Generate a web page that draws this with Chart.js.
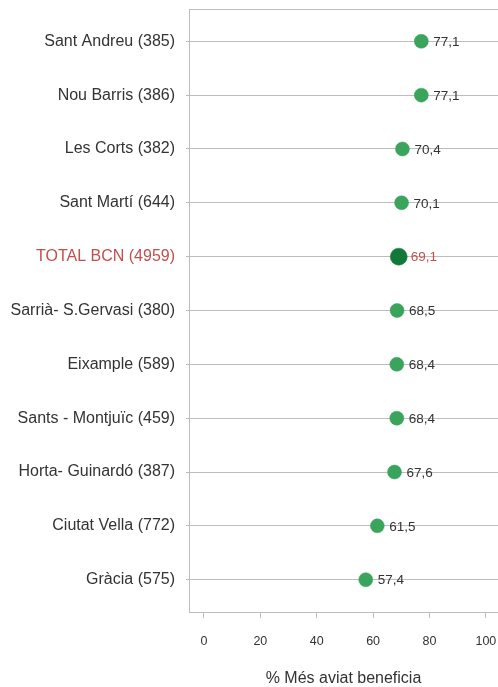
<!DOCTYPE html>
<html>
<head>
<meta charset="utf-8">
<script src="https://cdn.jsdelivr.net/npm/chart.js@4.4.1/dist/chart.umd.min.js"></script>
<style>
  html, body { margin: 0; padding: 0; background: #ffffff; }
  #wrap { width: 498px; height: 687px; position: relative; overflow: hidden; }
</style>
</head>
<body>
<div id="wrap"><canvas id="c" width="498" height="687"></canvas></div>
<script>
const categories = [
  "Sant Andreu (385)",
  "Nou Barris (386)",
  "Les Corts (382)",
  "Sant Martí (644)",
  "TOTAL BCN (4959)",
  "Sarrià- S.Gervasi (380)",
  "Eixample (589)",
  "Sants - Montjuïc (459)",
  "Horta- Guinardó (387)",
  "Ciutat Vella (772)",
  "Gràcia (575)"
];
const values = [77.1, 77.1, 70.4, 70.1, 69.1, 68.5, 68.4, 68.4, 67.6, 61.5, 57.4];
const valueLabels = ["77,1", "77,1", "70,4", "70,1", "69,1", "68,5", "68,4", "68,4", "67,6", "61,5", "57,4"];
const xTicks = [0, 20, 40, 60, 80, 100];
const totalIndex = 4;
const xTitle = "% Més aviat beneficia";

const GREEN = '#3aa35c';
const DARK_GREEN = '#127838';
const RED = '#c0504d';
const TEXT = '#333333';
const GRID = '#bdbdbd';
const FONT = "'Liberation Sans', Arial, sans-serif";

const points = values.map((v, i) => ({ x: v, y: i }));

function zeroPad(scale) {
  scale.paddingTop = 0; scale.paddingBottom = 0;
  scale.paddingLeft = 0; scale.paddingRight = 0;
}

const boxTop = {
  id: 'boxTop',
  beforeDatasetsDraw(chart) {
    const { ctx, chartArea } = chart;
    ctx.save();
    ctx.strokeStyle = GRID;
    ctx.lineWidth = 1;
    ctx.beginPath();
    ctx.moveTo(chartArea.left, chartArea.top + 0.5);
    ctx.lineTo(chartArea.right, chartArea.top + 0.5);
    ctx.stroke();
    ctx.restore();
  }
};

const valueLabelPlugin = {
  id: 'valueLabels',
  afterDatasetsDraw(chart) {
    const { ctx } = chart;
    const xs = chart.scales.x, ys = chart.scales.y;
    ctx.save();
    ctx.font = "13.5px " + FONT;
    ctx.textBaseline = 'middle';
    ctx.textAlign = 'left';
    values.forEach((v, i) => {
      const px = xs.getPixelForValue(v);
      const py = ys.getPixelForValue(i);
      ctx.fillStyle = i === totalIndex ? RED : TEXT;
      ctx.fillText(valueLabels[i], px + 12, py + 1);
    });
    ctx.restore();
  }
};

new Chart(document.getElementById('c'), {
  type: 'scatter',
  data: {
    datasets: [{
      data: points,
      pointRadius: values.map((v, i) => i === totalIndex ? 8.5 : 7),
      pointBackgroundColor: values.map((v, i) => i === totalIndex ? DARK_GREEN : GREEN),
      pointBorderColor: values.map((v, i) => i === totalIndex ? DARK_GREEN : GREEN),
      pointBorderWidth: 0.5,
      showLine: false
    }]
  },
  options: {
    responsive: false,
    animation: false,
    devicePixelRatio: 1,
    layout: { autoPadding: false, padding: { top: 9, right: 0, left: 0, bottom: 0 } },
    plugins: { legend: { display: false }, tooltip: { enabled: false } },
    scales: {
      x: {
        type: 'linear',
        position: 'bottom',
        min: -5.3,
        max: 104.3,
        afterBuildTicks(scale) { scale.ticks = xTicks.map(v => ({ value: v })); },
        afterFit(scale) { scale.height = 75; zeroPad(scale); },
        grid: { drawOnChartArea: false, drawTicks: true, tickLength: 6, color: GRID },
        border: { display: true, color: GRID, width: 1 },
        ticks: { color: TEXT, font: { family: FONT, size: 12.5 }, padding: 16, maxRotation: 0 },
        title: { display: true, text: xTitle, color: TEXT, font: { family: FONT, size: 16, lineHeight: 1 }, padding: { top: 0, bottom: 0 } }
      },
      y: {
        type: 'linear',
        reverse: true,
        min: -0.6,
        max: 10.6,
        afterBuildTicks(scale) { scale.ticks = categories.map((c, i) => ({ value: i })); },
        afterFit(scale) { scale.width = 189; zeroPad(scale); },
        grid: { drawOnChartArea: true, drawTicks: true, tickLength: 3, color: GRID },
        border: { display: true, color: GRID, width: 1 },
        ticks: {
          padding: 11,
          font: { family: FONT, size: 16 },
          color: (ctx) => ctx.index === totalIndex ? RED : TEXT,
          callback: (v) => categories[v]
        }
      }
    }
  },
  plugins: [boxTop, valueLabelPlugin]
});
</script>
</body>
</html>
